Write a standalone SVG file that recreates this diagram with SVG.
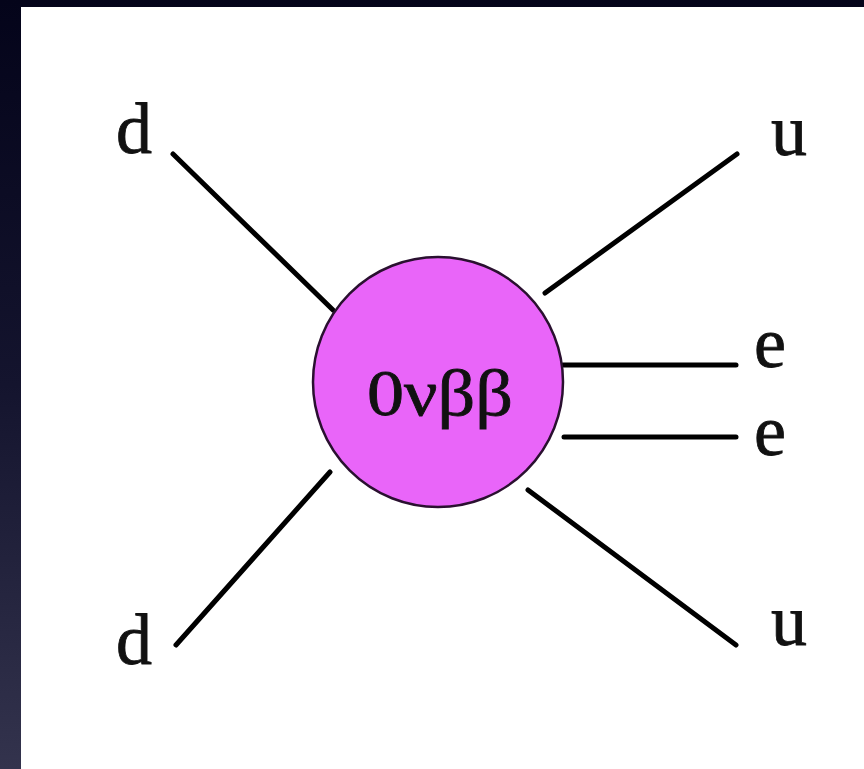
<svg xmlns="http://www.w3.org/2000/svg" width="864" height="769" viewBox="0 0 864 769">
  <defs>
    <linearGradient id="bg" x1="0" y1="0" x2="0" y2="1">
      <stop offset="0" stop-color="#04041a"/>
      <stop offset="0.5" stop-color="#14142e"/>
      <stop offset="1" stop-color="#33334d"/>
    </linearGradient>
  </defs>
  <style>
    .lbl { font-family: "Liberation Serif", "Times New Roman", serif; font-size: 72px; fill: #111; stroke: #111; stroke-width: 0.8; }
    .leg { stroke: #000; stroke-width: 5; stroke-linecap: round; fill: none; }
  </style>
  <rect x="0" y="0" width="864" height="769" fill="url(#bg)"/>
  <rect x="21" y="7" width="843" height="762" fill="#ffffff"/>
  <g id="connectors">
    <line class="leg" x1="173" y1="154" x2="333" y2="310"/>
    <line class="leg" x1="737" y1="154" x2="545" y2="293"/>
    <line class="leg" x1="563" y1="365" x2="736" y2="365"/>
    <line class="leg" x1="564" y1="437" x2="736" y2="437"/>
    <line class="leg" x1="176" y1="645" x2="330" y2="472"/>
    <line class="leg" x1="528" y1="490" x2="736" y2="645"/>
  </g>
  <g id="vertex">
    <circle cx="438" cy="382" r="125" fill="#e965f9" stroke="#2a1030" stroke-width="2.5"/>
    <text x="440" y="415" text-anchor="middle" font-family="Liberation Serif, Times New Roman, serif" font-size="66" fill="#111" stroke="#111" stroke-width="0.8" textLength="146" lengthAdjust="spacingAndGlyphs">0νββ</text>
  </g>
  <g id="d-top"><text class="lbl" x="116" y="153">d</text></g>
  <g id="u-top"><text class="lbl" x="771" y="155">u</text></g>
  <g id="e-upper"><text class="lbl" x="754" y="367">e</text></g>
  <g id="e-lower"><text class="lbl" x="754" y="455">e</text></g>
  <g id="d-bottom"><text class="lbl" x="116" y="664">d</text></g>
  <g id="u-bottom"><text class="lbl" x="771" y="645">u</text></g>
</svg>
